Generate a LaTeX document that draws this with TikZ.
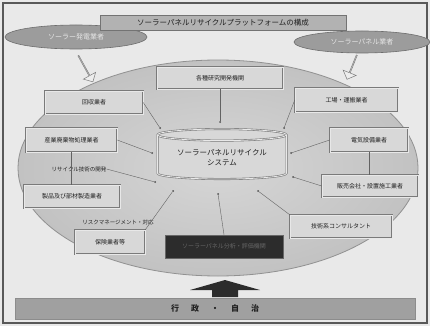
\documentclass[tikz,border=0pt]{standalone}
\usepackage{fontspec}
\newfontfamily\jp{Noto Sans CJK JP}
\usetikzlibrary{shapes.geometric,shapes.arrows}
\definecolor{bgc}{HTML}{E9E9E9}
\definecolor{ellc}{HTML}{C2C2C2}
\definecolor{ellin}{HTML}{D6D6D6}
\definecolor{boxc}{HTML}{D8D8D8}
\definecolor{boxline}{HTML}{7A7A7A}
\definecolor{txtc}{HTML}{202020}
\definecolor{titlec}{HTML}{B2B2B2}
\definecolor{sidec}{HTML}{9C9C9C}
\definecolor{darkc}{HTML}{2C2C2C}
\definecolor{barc}{HTML}{A0A0A0}
\tikzset{
  rolebox/.style={draw=boxline, line width=0.5pt, double=boxc!60!white, double distance=0.8pt,
    fill=boxc, font=\jp\fontsize{6}{7}\selectfont, text=txtc, inner sep=1pt},
  sideell/.style={ellipse, draw=sidec!70!black, line width=0.6pt, fill=sidec,
    font=\jp\fontsize{7}{8}\selectfont, text=white!90!black, inner sep=0pt},
  blockarrow/.style={single arrow, draw=boxline, fill=bgc!80!white, line width=0.5pt,
    single arrow head extend=3pt, inner sep=0pt},
  link/.style={draw=boxline!80!black, line width=0.4pt},
  dotc/.style={circle, fill=txtc!80, inner sep=0pt, minimum size=2pt},
  freetext/.style={font=\jp\fontsize{5.5}{6.5}\selectfont, text=txtc, inner sep=0pt}
}
\begin{document}
\begin{tikzpicture}[x=1pt,y=-1pt]
\useasboundingbox (0,0) rectangle (430,326);
\fill[bgc] (0,0) rectangle (430,326);
\draw[draw=black!65, line width=1.2pt] (3,3) rectangle (427,323);

% big ellipse
\node (big) [ellipse, draw=ellc!75!black, line width=0.8pt, inner color=ellin, outer color=ellc,
  minimum width=400pt, minimum height=216pt] at (218,168) {};

% title and top ellipses
\node (left) [sideell, minimum width=142pt, minimum height=24pt] at (76,37) {ソーラー発電業者};
\node (right) [sideell, minimum width=136pt, minimum height=22pt] at (362,42) {ソーラーパネル業者};
\node (title) [draw=black!55, line width=0.7pt, fill=titlec, minimum width=246pt, minimum height=15pt,
  font=\jp\fontsize{7.5}{8}\selectfont, text=txtc, inner sep=0pt] at (223,22.5)
  {ソーラーパネルリサイクルプラットフォームの構成};

% side arrows
\node (la) [blockarrow, minimum height=30pt, minimum width=14pt, rotate=-61] at (85.5,68.5) {};
\node (ra) [blockarrow, minimum height=26pt, minimum width=14pt, rotate=-112] at (352,67) {};

% central cylinder
\node (sys) [cylinder, shape border rotate=90, aspect=0.12, draw=boxline, line width=0.6pt,
  double=boxc!60!white, double distance=0.8pt, fill=boxc, minimum width=129pt, minimum height=50pt,
  align=center, font=\jp\fontsize{7.5}{10}\selectfont, text=txtc] at (222,158)
  {ソーラーパネルリサイクル\\システム};

% boxes
\node (top) [rolebox, minimum width=126pt, minimum height=22pt] at (220,78) {各種研究開発機関};
\node (l1) [rolebox, minimum width=98pt, minimum height=23pt] at (94,102.5) {回収業者};
\node (r1) [rolebox, minimum width=103pt, minimum height=24pt] at (346.5,100) {工場・運搬業者};
\node (l2) [rolebox, minimum width=91pt, minimum height=24pt] at (71.5,140) {産業廃棄物処理業者};
\node (r2) [rolebox, minimum width=78pt, minimum height=24pt] at (369,140) {電気設備業者};
\node (l3) [rolebox, minimum width=96pt, minimum height=23pt] at (72,196.5) {製品及び部材製造業者};
\node (l4) [rolebox, minimum width=70pt, minimum height=24pt] at (110,242) {保険業者等};
\node (r3) [rolebox, minimum width=96pt, minimum height=22pt] at (370,186) {販売会社・設置施工業者};
\node (r4) [rolebox, minimum width=102pt, minimum height=23pt] at (341,226.5) {技術系コンサルタント};
\node (dk) [draw=black!60, fill=darkc, minimum width=118pt, minimum height=23pt,
  font=\jp\fontsize{6}{7}\selectfont, text=black!60, inner sep=1pt] at (224,246.5) {ソーラーパネル分析・評価機関};

% free texts
\node (t1) [freetext] at (79,169) {リサイクル技術の開発};
\node (t2) [freetext] at (118,222) {リスクマネージメント・対応};

% dots around the system
\node (d1) [dotc] at (220,122) {};
\node (d2) [dotc] at (152,153) {};
\node (d3) [dotc] at (291,153) {};
\node (d4) [dotc] at (155,182) {};
\node (d5) [dotc] at (293,177) {};
\node (d6) [dotc] at (173,191) {};
\node (d7) [dotc] at (218,194) {};
\node (d8) [dotc] at (258,191) {};
\node (d9) [dotc] at (160,128) {};
\node (d10) [dotc] at (284,128) {};

% connectors
\draw[link] (top.south) -- (d1);
\draw[link] (l1.east) -- (d9);
\draw[link] (r1.west) -- (d10);
\draw[link] (l2.east) -- (d2);
\draw[link] (r2.west) -- (d3);
\draw[link] (t1.east) -- (d4);
\draw[link] (r3.west) -- (d5);
\draw[link] (l4.north east) -- (d6);
\draw[link] (dk.north) -- (d7);
\draw[link] (r4.north west) -- (d8);
\draw[link] (r2.south) -- (r2.south |- r3.north);
\draw[link] (l2.south) -- (l2.south |- l3.north);

% bottom arrow and bar
\fill[darkc] (212,297) -- (212,290) -- (190,290) -- (225,280) -- (260,290) -- (238,290) -- (238,297) -- cycle;
\node (bar) [fill=barc, draw=black!45, line width=0.5pt, minimum width=400pt, minimum height=21pt,
  font=\jp\bfseries\fontsize{8}{9}\selectfont, text=txtc, inner sep=0pt] at (215,308.5)
  {行\hspace{12pt}政\hspace{12pt}・\hspace{12pt}自\hspace{12pt}治};
\end{tikzpicture}
\end{document}
